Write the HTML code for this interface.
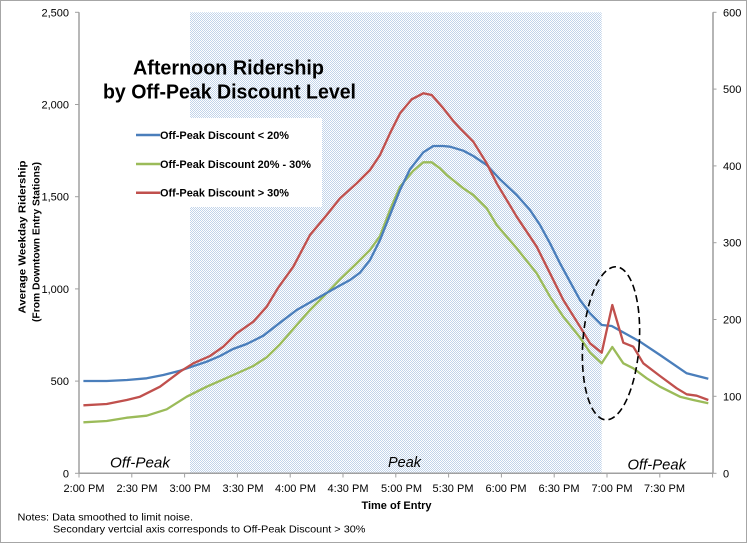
<!DOCTYPE html>
<html>
<head>
<meta charset="utf-8">
<style>
  html, body { margin: 0; padding: 0; background: #ffffff; }
  svg { display: block; }
  text { font-family: "Liberation Sans", sans-serif; fill: #000; }
</style>
</head>
<body>
<svg width="749" height="545" viewBox="0 0 749 545" xmlns="http://www.w3.org/2000/svg">
  <defs>
    <pattern id="chk" width="2" height="2" patternUnits="userSpaceOnUse">
      <rect x="0" y="0" width="2" height="2" fill="#ffffff"/>
      <rect x="0" y="0" width="1" height="1" fill="#c2d4ea"/>
      <rect x="1" y="1" width="1" height="1" fill="#c2d4ea"/>
    </pattern>
  </defs>

  <!-- background and outer border -->
  <rect x="0" y="0" width="749" height="545" fill="#ffffff"/>
  <rect x="0.5" y="0.5" width="746" height="542" fill="none" stroke="#a6a6a6" stroke-width="1"/>

  <!-- Peak shaded region -->
  <rect x="190" y="12.3" width="411.7" height="461" fill="url(#chk)"/>

  <!-- Legend white box -->
  <rect x="128" y="118" width="194" height="89" fill="#ffffff"/>

  <!-- axes -->
  <line x1="79" y1="12.3" x2="79" y2="473.3" stroke="#a0a0a0" stroke-width="1.5"/>
  <line x1="713" y1="12.3" x2="713" y2="473.3" stroke="#b5b5b5" stroke-width="2"/>
  <line x1="79" y1="473.3" x2="713" y2="473.3" stroke="#a0a0a0" stroke-width="1.5"/>

  <!-- left ticks -->
  <g stroke="#a0a0a0" stroke-width="1">
    <line x1="75" y1="12.3" x2="79" y2="12.3"/>
    <line x1="75" y1="104.5" x2="79" y2="104.5"/>
    <line x1="75" y1="196.7" x2="79" y2="196.7"/>
    <line x1="75" y1="288.9" x2="79" y2="288.9"/>
    <line x1="75" y1="381.1" x2="79" y2="381.1"/>
    <line x1="75" y1="473.3" x2="79" y2="473.3"/>
  </g>
  <!-- right ticks -->
  <g stroke="#a0a0a0" stroke-width="1">
    <line x1="713" y1="12.3" x2="716.5" y2="12.3"/>
    <line x1="713" y1="89.1" x2="716.5" y2="89.1"/>
    <line x1="713" y1="165.9" x2="716.5" y2="165.9"/>
    <line x1="713" y1="242.7" x2="716.5" y2="242.7"/>
    <line x1="713" y1="319.5" x2="716.5" y2="319.5"/>
    <line x1="713" y1="396.3" x2="716.5" y2="396.3"/>
    <line x1="713" y1="473.3" x2="716.5" y2="473.3"/>
  </g>
  <!-- bottom ticks -->
  <g stroke="#a0a0a0" stroke-width="1">
    <line x1="79" y1="473.3" x2="79" y2="477.5"/>
    <line x1="131.8" y1="473.3" x2="131.8" y2="477.5"/>
    <line x1="184.6" y1="473.3" x2="184.6" y2="477.5"/>
    <line x1="237.4" y1="473.3" x2="237.4" y2="477.5"/>
    <line x1="290.2" y1="473.3" x2="290.2" y2="477.5"/>
    <line x1="343" y1="473.3" x2="343" y2="477.5"/>
    <line x1="395.8" y1="473.3" x2="395.8" y2="477.5"/>
    <line x1="448.6" y1="473.3" x2="448.6" y2="477.5"/>
    <line x1="501.4" y1="473.3" x2="501.4" y2="477.5"/>
    <line x1="554.2" y1="473.3" x2="554.2" y2="477.5"/>
    <line x1="607" y1="473.3" x2="607" y2="477.5"/>
    <line x1="659.8" y1="473.3" x2="659.8" y2="477.5"/>
    <line x1="712.6" y1="473.3" x2="712.6" y2="477.5"/>
  </g>

  <!-- left tick labels -->
  <g font-size="11" text-anchor="end">
    <text x="69" y="16.3">2,500</text>
    <text x="69" y="108.5">2,000</text>
    <text x="69" y="200.7">1,500</text>
    <text x="69" y="292.9">1,000</text>
    <text x="69" y="385.1">500</text>
    <text x="69" y="477.3">0</text>
  </g>
  <!-- right tick labels -->
  <g font-size="11" text-anchor="start">
    <text x="723" y="16.3">600</text>
    <text x="723" y="93.1">500</text>
    <text x="723" y="169.9">400</text>
    <text x="723" y="246.7">300</text>
    <text x="723" y="323.5">200</text>
    <text x="723" y="400.3">100</text>
    <text x="723" y="477.3">0</text>
  </g>
  <!-- x labels -->
  <g font-size="11" text-anchor="middle">
    <text x="84" y="492">2:00 PM</text>
    <text x="137" y="492">2:30 PM</text>
    <text x="190" y="492">3:00 PM</text>
    <text x="243" y="492">3:30 PM</text>
    <text x="295.5" y="492">4:00 PM</text>
    <text x="348" y="492">4:30 PM</text>
    <text x="401.5" y="492">5:00 PM</text>
    <text x="453" y="492">5:30 PM</text>
    <text x="506" y="492">6:00 PM</text>
    <text x="559" y="492">6:30 PM</text>
    <text x="612" y="492">7:00 PM</text>
    <text x="664.5" y="492">7:30 PM</text>
  </g>

  <!-- axis titles -->
  <text x="396.5" y="509" font-size="11" font-weight="bold" text-anchor="middle">Time of Entry</text>
  <g transform="translate(25.5,237) rotate(-90)">
    <text x="0" y="0" font-size="10" font-weight="bold" text-anchor="middle" textLength="153" lengthAdjust="spacingAndGlyphs">Average Weekday Ridership</text>
  </g>
  <g transform="translate(39.5,242) rotate(-90)">
    <text x="0" y="0" font-size="10" font-weight="bold" text-anchor="middle" textLength="160" lengthAdjust="spacingAndGlyphs">(From Downtown Entry Stations)</text>
  </g>

  <!-- notes -->
  <text x="17.5" y="520.5" font-size="10.5" textLength="175.5" lengthAdjust="spacingAndGlyphs">Notes: Data smoothed to limit noise.</text>
  <text x="53" y="532.5" font-size="10.5" textLength="312.5" lengthAdjust="spacingAndGlyphs">Secondary vertcial axis corresponds to  Off-Peak Discount &gt; 30%</text>

  <!-- period labels -->
  <g font-size="14.5" font-style="italic">
    <text x="110" y="467.5" textLength="60" lengthAdjust="spacingAndGlyphs">Off-Peak</text>
    <text x="388" y="467" textLength="33" lengthAdjust="spacingAndGlyphs">Peak</text>
    <text x="627.5" y="469.5" textLength="58.5" lengthAdjust="spacingAndGlyphs">Off-Peak</text>
  </g>

  <!-- title -->
  <text x="133" y="74.5" font-size="20" font-weight="bold" textLength="191" lengthAdjust="spacingAndGlyphs">Afternoon Ridership</text>
  <text x="103" y="98.5" font-size="20" font-weight="bold" textLength="253" lengthAdjust="spacingAndGlyphs">by Off-Peak Discount Level</text>

  <!-- legend -->
  <line x1="136" y1="135" x2="160" y2="135" stroke="#4a7ebb" stroke-width="2.5"/>
  <text x="160" y="139" font-size="11" font-weight="bold" textLength="129" lengthAdjust="spacingAndGlyphs">Off-Peak Discount &lt; 20%</text>
  <line x1="136" y1="164" x2="160" y2="164" stroke="#9bbb59" stroke-width="2.5"/>
  <text x="160" y="168" font-size="11" font-weight="bold" textLength="151" lengthAdjust="spacingAndGlyphs">Off-Peak Discount 20% - 30%</text>
  <line x1="136" y1="192.7" x2="160" y2="192.7" stroke="#c0504d" stroke-width="2.5"/>
  <text x="160" y="196.7" font-size="11" font-weight="bold" textLength="129" lengthAdjust="spacingAndGlyphs">Off-Peak Discount &gt; 30%</text>

  <!-- series -->
  <polyline fill="none" stroke="#9bbb59" stroke-width="2.3" stroke-linejoin="round"
    points="83.4,422.3 106.7,421 126.7,417.7 146.7,415.7 166.7,409.3 186.7,396.7 206.7,386.7 233.3,375 253.3,366 266.7,357.3 280,344.3 295,327 310,310 325,295 340,279.3 355,265 370,250 380,236 390,210 400,186.7 413.3,170.7 423.3,162.3 431.7,162.3 440,168.3 446.7,175 463.3,188.3 473.3,195 486.7,208.3 496.7,225 516.7,248.3 536.7,273.3 550,296.7 563.3,316.7 580,337.5 590,352.5 601.7,363.3 612.3,347 623.3,363.3 633.3,368.3 646.7,378.3 660,386.7 680,396.7 693.3,400 708.3,403.3"/>
  <polyline fill="none" stroke="#4a7ebb" stroke-width="2.3" stroke-linejoin="round"
    points="83.4,381 106.7,381 127,380 146.7,378.3 163.3,375 180,370.7 191.7,366.7 206.7,361.7 220,356 233,349 246.7,344 263.3,335.7 280,322.7 296.7,310 320,296.7 336.7,287.3 350,280 360,272.7 370,260 380,240 390,215 400,190 410,169.3 423.3,152.3 433.3,146 443.3,146 450,146.7 463.3,150.7 473.3,156 486.7,165 500,179.3 516.7,195 530,210 540,225 550,243.3 560,263.3 570,281.7 580,300 590,313.3 601.7,325 611.7,326 640,341.7 660,355 686.7,373.3 708.3,378.7"/>
  <polyline fill="none" stroke="#c0504d" stroke-width="2.3" stroke-linejoin="round"
    points="83.4,405.3 106.7,404 126.7,400 140,396.7 160,386.7 180,371.7 193.3,363.3 210,356 223.3,346.7 236.7,333.3 253.3,321.7 266.7,306.7 278,288 293.3,266.7 310,235 326.7,215 340,198.3 356.7,183.3 370,170 380,155 390,133.3 400,113.3 411.7,99.3 423.3,93.3 431.7,95 443.3,108.3 453.3,121 460,128.3 473.3,141.7 486.7,163.3 496.7,183.3 516.7,216.7 536.7,246.7 550,273.3 563.3,300 580,326.7 590,343.3 601.7,352.7 612.3,305 623.3,342.7 633.3,346.7 643.3,363.3 660,376 676.7,388.3 686.7,394.3 696.7,395.7 708.3,400"/>

  <!-- dashed ellipse -->
  <ellipse cx="611" cy="343.3" rx="28.2" ry="76.7" transform="rotate(4 611 343.3)" fill="none" stroke="#000" stroke-width="1.6" stroke-dasharray="7,4"/>
</svg>
</body>
</html>
